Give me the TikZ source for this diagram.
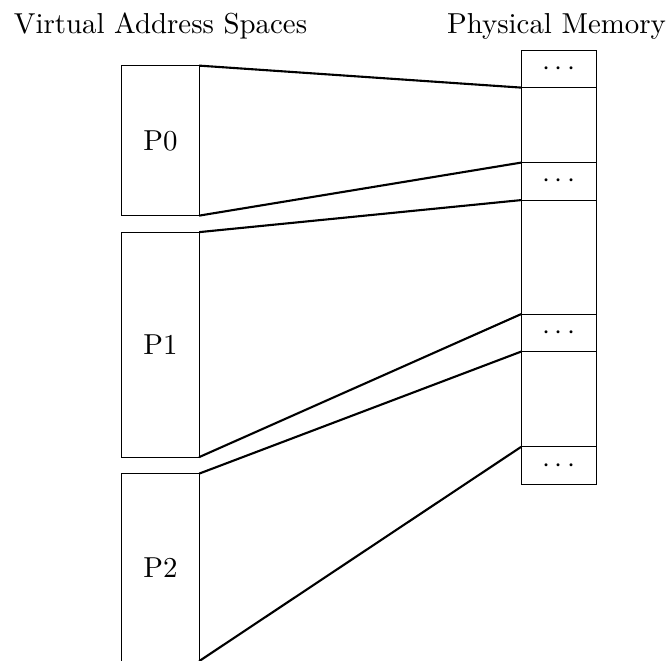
\documentclass[11pt,tikz,border=0pt]{standalone}
\usetikzlibrary{positioning}

\tikzset{
	vspace/.style={draw, minimum width=1.03cm, minimum height=#1, inner sep=0pt, outer sep=0pt},
	memcell/.style={draw, minimum width=1.01cm, minimum height=#1, inner sep=0pt, outer sep=0pt},
	mapline/.style={line width=0.8pt}
}

\begin{document}
\begin{tikzpicture}
	%%%%% START %%%%%
	\useasboundingbox (0, 0.015) rectangle (8.933, 8.815);
	
	\node[anchor=base] (vtitle) at (2.14, 8.373) {Virtual Address Spaces};
	\node[anchor=base] (ptitle) at (7.42, 8.373) {Physical Memory};
	
	% virtual address spaces
	\node[vspace=2cm] (P0) at (2.14, 6.94) {P0};
	\node[vspace=3cm, below=0.22cm of P0] (P1) {P1};
	\node[vspace=2.5cm, below=0.22cm of P1] (P2) {P2};
	
	% physical memory
	\node[memcell=0.5cm] (mem1) at (7.453, 7.897) {$\cdots$};
	\node[memcell=1cm, below=0pt of mem1] (mem2) {};
	\node[memcell=0.5cm, below=0pt of mem2] (mem3) {$\cdots$};
	\node[memcell=1.52cm, below=0pt of mem3] (mem4) {};
	\node[memcell=0.5cm, below=0pt of mem4] (mem5) {$\cdots$};
	\node[memcell=1.27cm, below=0pt of mem5] (mem6) {};
	\node[memcell=0.5cm, below=0pt of mem6] (mem7) {$\cdots$};
	
	% mappings
	\draw[mapline] (P0.north east) -- (mem2.north west);
	\draw[mapline] (P0.south east) -- (mem3.north west);
	\draw[mapline] (P1.north east) -- (mem4.north west);
	\draw[mapline] (P1.south east) -- (mem5.north west);
	\draw[mapline] (P2.north east) -- (mem6.north west);
	\draw[mapline] (P2.south east) -- (mem7.north west);
	
	%%%%% END %%%%%
\end{tikzpicture}
\end{document}
